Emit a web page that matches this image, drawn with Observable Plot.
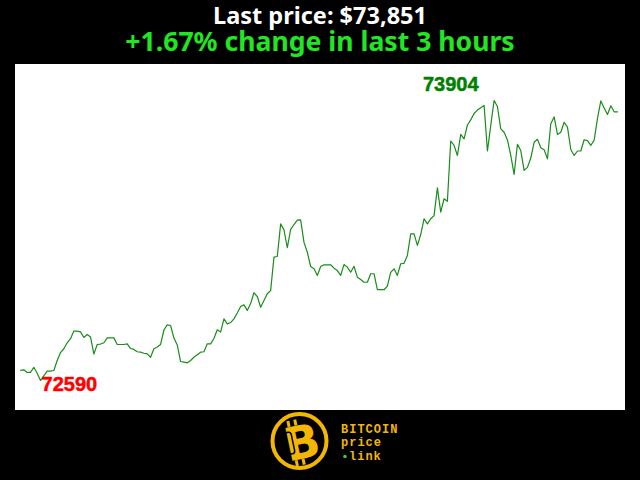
<!DOCTYPE html>
<html><head><meta charset="utf-8">
<script src="https://cdn.jsdelivr.net/npm/d3@7"></script>
<script src="https://cdn.jsdelivr.net/npm/@observablehq/plot@0.6"></script>
<style>
html,body{margin:0;padding:0;background:#000;width:640px;height:480px;overflow:hidden;}
#head{position:absolute;left:0;top:0;}
#chart{position:absolute;left:15px;top:64px;width:610px;height:346px;background:#fff;}
#foot{position:absolute;left:0;top:410px;}
</style>
</head><body>
<svg id="head" width="640" height="64"></svg>
<div id="chart"></div>
<svg id="foot" width="640" height="70"></svg>
<script>
// BTC price, one reading per minute over the last 3 hours (USD)
const prices = [
72638,72640,72628,72628,72652,72624,72590,72612,72634,72634,
72637,72684,72721,72739,72767,72786,72822,72822,72818,72792,
72806,72794,72714,72759,72761,72767,72790,72790,72790,72759,
72759,72759,72762,72740,72736,72725,72723,72718,72715,72699,
72739,72747,72759,72827,72851,72848,72789,72757,72679,72676,
72673,72684,72699,72711,72723,72725,72762,72762,72787,72828,
72817,72879,72856,72862,72879,72907,72937,72945,72919,72951,
73002,72984,72934,72965,72997,73012,73169,73172,73325,73297,
73213,73299,73322,73343,73344,73238,73192,73125,73114,73083,
73125,73133,73133,73133,73117,73106,73083,73134,73122,73098,
73126,73075,73064,73051,73051,73091,73091,73016,73016,73016,
73033,73097,73114,73083,73138,73140,73177,73278,73278,73224,
73275,73349,73325,73349,73364,73494,73380,73443,73431,73714,
73693,73646,73745,73724,73789,73813,73843,73859,73870,73881,
73667,73787,73904,73876,73771,73755,73719,73646,73557,73698,
73669,73576,73590,73634,73708,73722,73682,73673,73630,73795,
73827,73745,73755,73802,73779,73674,73646,73667,73667,73720,
73716,73693,73718,73820,73902,73869,73838,73879,73851,73851
];
const minutes = d3.range(prices.length);
const hoursLabel = "3 hours";
const logoLines = ["BITCOIN", "price", "link"];

const data = minutes.map((m, k) => ({m, p: prices[k]}));
const last = prices[prices.length - 1];
const first = prices[0];
const change = (last - first) / first * 100;
const iMin = d3.minIndex(prices), iMax = d3.maxIndex(prices);

// header
const head = d3.select("#head");
head.append("text").attr("x", 320).attr("y", 24).attr("text-anchor", "middle")
  .attr("fill", "#fff").attr("font-family", "Noto Sans").attr("font-weight", "bold")
  .attr("font-size", 23.5).text("Last price: $" + d3.format(",")(last));
head.append("text").attr("x", 320).attr("y", 50.5).attr("text-anchor", "middle")
  .attr("fill", "#22e622").attr("font-family", "Noto Sans").attr("font-weight", "bold")
  .attr("font-size", 26.6).text((change >= 0 ? "+" : "") + change.toFixed(2) + "% change in last " + hoursLabel);

const chart = Plot.plot({
  width: 610, height: 346,
  marginLeft: 5, marginRight: 8, marginTop: 36, marginBottom: 30,
  style: {background: "white", overflow: "visible"},
  x: {axis: null, domain: [0, prices.length - 1]},
  y: {axis: null, domain: [d3.min(prices), d3.max(prices)]},
  marks: [
    Plot.line(data, {x: "m", y: "p", stroke: "#1a8c1a", strokeWidth: 1.2}),
    Plot.text([data[iMin]], {x: "m", y: "p", text: d => String(d.p), textAnchor: "start",
      lineAnchor: "bottom", dx: 1, dy: 10.7, fill: "#ff0000", stroke: "#ff0000", strokeWidth: 0.5,
      fontSize: 20, fontWeight: "bold", fontFamily: "Liberation Sans"}),
    Plot.text([data[iMax]], {x: "m", y: "p", text: d => String(d.p), textAnchor: "end",
      lineAnchor: "bottom", dx: -15.5, dy: -9.3, fill: "#008000", stroke: "#008000", strokeWidth: 0.5,
      fontSize: 20, fontWeight: "bold", fontFamily: "Liberation Sans"})
  ]
});
document.getElementById("chart").append(chart);

// footer logo
const gold = "#f2b705";
const foot = d3.select("#foot");
const g = foot.append("g").attr("transform", "translate(0,-410)");
g.append("circle").attr("cx", 299.5).attr("cy", 441).attr("r", 27).attr("fill", "#000")
  .attr("stroke", gold).attr("stroke-width", 4);
const b = g.append("g").attr("transform", "rotate(-12 300 442)");
b.append("rect").attr("x", 291).attr("y", 419).attr("width", 3).attr("height", 6).attr("fill", gold);
b.append("rect").attr("x", 298).attr("y", 419).attr("width", 3).attr("height", 6).attr("fill", gold);
b.append("rect").attr("x", 291).attr("y", 459).attr("width", 3).attr("height", 6).attr("fill", gold);
b.append("rect").attr("x", 298).attr("y", 459).attr("width", 3).attr("height", 6).attr("fill", gold);
b.append("text").attr("x", 302).attr("y", 459).attr("text-anchor", "middle")
  .attr("font-family", "DejaVu Sans").attr("font-weight", "bold").attr("font-size", 46)
  .attr("fill", gold).text("B");
b.append("rect").attr("x", 287).attr("y", 430).attr("width", 6).attr("height", 22).attr("rx", 3)
  .attr("fill", "none").attr("stroke", "#000").attr("stroke-width", 1.5);
const tf = {"font-family": "Liberation Mono", "font-weight": "bold", "font-size": 12,
  "letter-spacing": 1, fill: gold};
function t(x, y, s) { const e = g.append("text").attr("x", x).attr("y", y).text(s); for (const k in tf) e.attr(k, tf[k]); }
t(341, 433, logoLines[0]);
t(341, 446, logoLines[1]);
t(349, 460, logoLines[2]);
g.append("circle").attr("cx", 345).attr("cy", 456.5).attr("r", 1.8).attr("fill", "#2ecc40");
</script>
</body></html>
